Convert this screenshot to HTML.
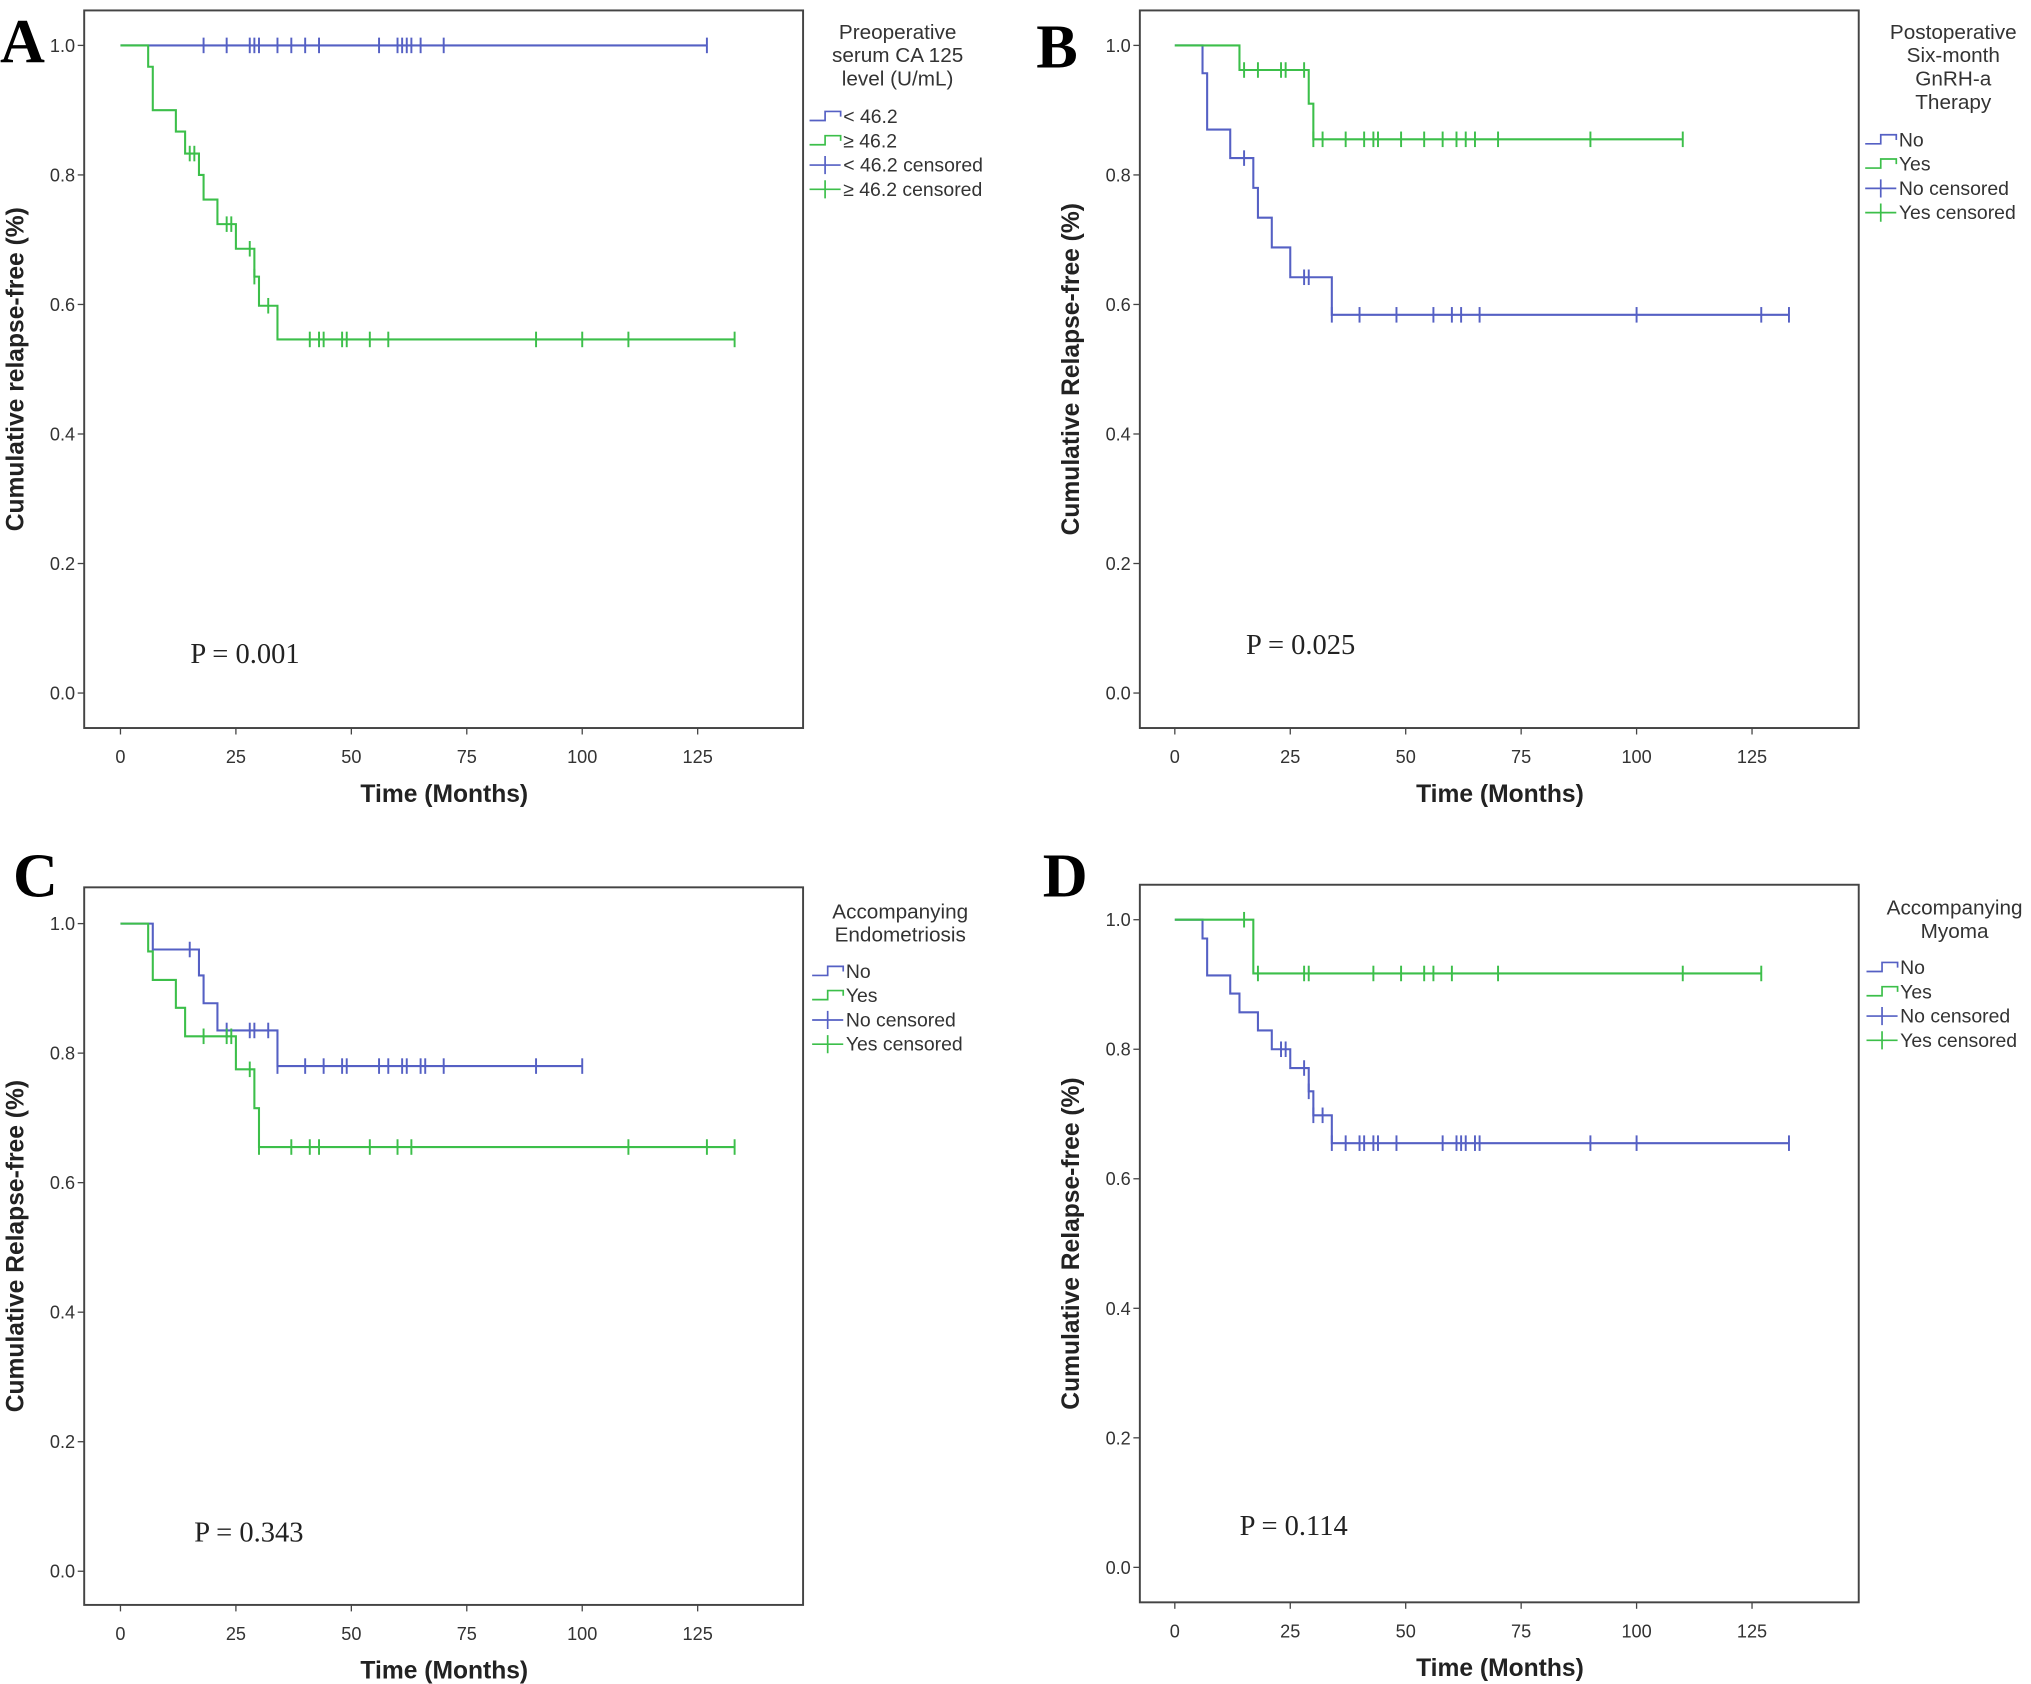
<!DOCTYPE html>
<html><head><meta charset="utf-8"><style>
html,body{margin:0;padding:0;background:#fff}
svg{display:block}
</style></head><body>
<svg id="fig" xmlns="http://www.w3.org/2000/svg" width="2031" height="1684" viewBox="0 0 1568 1300" font-family="Liberation Sans, sans-serif"></svg>
<script>
const xTicks=[0,25,50,75,100,125];
const yTicks=[0.0,0.2,0.4,0.6,0.8,1.0];
// Panel A
const aBlueSteps=[];
const aBlueCens=[18,23,28,29,30,34,37,40,43,56,60,61,62,63,65,70,127];
const aGreenSteps=[[6,0.967],[7,0.90],[12,0.867],[14,0.833],[17,0.80],[18,0.762],[21,0.724],[25,0.686],[29,0.643],[30,0.598],[34,0.546]];
const aGreenCens=[15,16,23,24,28,29,32,41,43,44,48,49,54,58,90,100,110,133];
// Panel B
const bBlueSteps=[[6,0.957],[7,0.87],[12,0.826],[17,0.78],[18,0.734],[21,0.688],[25,0.642],[34,0.584]];
const bBlueCens=[15,28,29,34,40,48,56,60,62,66,100,127,133];
const bGreenSteps=[[14,0.962],[29,0.91],[30,0.855]];
const bGreenCens=[15,18,23,24,28,30,32,37,41,43,44,49,54,58,61,63,65,70,90,110];
// Panel C
const cBlueSteps=[[7,0.96],[17,0.92],[18,0.877],[21,0.835],[34,0.78]];
const cBlueCens=[15,23,28,29,32,34,40,44,48,49,56,58,61,62,65,66,70,90,100];
const cGreenSteps=[[6,0.957],[7,0.913],[12,0.87],[14,0.826],[25,0.775],[29,0.715],[30,0.655]];
const cGreenCens=[18,23,24,28,30,37,41,43,54,60,63,110,127,133];
// Panel D
const dBlueSteps=[[6,0.971],[7,0.914],[12,0.886],[14,0.857],[18,0.829],[21,0.80],[25,0.771],[29,0.735],[30,0.698],[34,0.655]];
const dBlueCens=[23,24,28,29,30,32,34,37,40,41,43,44,48,58,61,62,63,65,66,90,100,133];
const dGreenSteps=[[17,0.917]];
const dGreenCens=[15,18,28,29,43,49,54,56,60,70,110,127];

const BLUE="#5560c4", GREEN="#3cbf4a";
const NS="http://www.w3.org/2000/svg";
const svg=document.getElementById('fig');
function el(tag,attrs,parent){const e=document.createElementNS(NS,tag);for(const k in attrs)e.setAttribute(k,attrs[k]);(parent||svg).appendChild(e);return e;}
const SERIF='"Liberation Serif", serif';

const panels=[
 {id:'a',L:'A',lx:0,ly:48,bx:65,by:8,x0:93,y1:35,y0:535,yTitle:'Cumulative relapse-free (%)',
  legTitle:['Preoperative','serum CA 125','level (U/mL)'],legX:625,legTY:30,legs:['< 46.2','\u2265 46.2','< 46.2 censored','\u2265 46.2 censored'],legY:90,
  p:'P = 0.001',px:147,py:512,blue:[aBlueSteps,aBlueCens],green:[aGreenSteps,aGreenCens]},
 {id:'b',L:'B',lx:800,ly:52,bx:880,by:8,x0:907,y1:35,y0:535,yTitle:'Cumulative Relapse-free (%)',
  legTitle:['Postoperative','Six-month','GnRH-a','Therapy'],legX:1440,legTY:30,legs:['No','Yes','No censored','Yes censored'],legY:108,
  p:'P = 0.025',px:962,py:505,blue:[bBlueSteps,bBlueCens],green:[bGreenSteps,bGreenCens]},
 {id:'c',L:'C',lx:10,ly:692,bx:65,by:685,x0:93,y1:713,y0:1213,yTitle:'Cumulative Relapse-free (%)',
  legTitle:['Accompanying','Endometriosis'],legX:627,legTY:709,legs:['No','Yes','No censored','Yes censored'],legY:750,
  p:'P = 0.343',px:150,py:1190,blue:[cBlueSteps,cBlueCens],green:[cGreenSteps,cGreenCens]},
 {id:'d',L:'D',lx:805,ly:692,bx:880,by:683,x0:907,y1:710,y0:1210,yTitle:'Cumulative Relapse-free (%)',
  legTitle:['Accompanying','Myoma'],legX:1441,legTY:706,legs:['No','Yes','No censored','Yes censored'],legY:747,
  p:'P = 0.114',px:957,py:1185,blue:[dBlueSteps,dBlueCens],green:[dGreenSteps,dGreenCens]}
];

panels.forEach(P=>{
 const g=el('g',{});
 
 
 const X=t=>P.x0+t*3.565;
 const Y=v=>P.y0-(v)*(P.y0-P.y1);
 const W=555,H=554;
 const lt=el('text',{x:P.lx,y:P.ly,style:'font-family:'+SERIF+';font-weight:bold;font-size:48px',fill:'#000'},g);
 lt.textContent=P.L;
 
 
 const box=el('rect',{x:P.bx,y:P.by,width:W,height:H,fill:'none',stroke:'#444','stroke-width':1.5},g);
 
 
 yTicks.forEach(v=>{
  el('line',{x1:P.bx-5,x2:P.bx,y1:Y(v),y2:Y(v),stroke:'#444','stroke-width':1},g);
  const t=el('text',{x:P.bx-7,y:Y(v)+5,'text-anchor':'end','font-size':14,fill:'#333'},g);
  t.textContent=v.toFixed(1);
  
  
 });
 xTicks.forEach(v=>{
  el('line',{x1:X(v),x2:X(v),y1:P.by+H,y2:P.by+H+5,stroke:'#444','stroke-width':1},g);
  const t=el('text',{x:X(v),y:P.by+H+27,'text-anchor':'middle','font-size':14,fill:'#333'},g);
  t.textContent=v;
  
  
 });
 const xt=el('text',{x:P.bx+278,y:P.by+H+57,'text-anchor':'middle','font-size':19,'font-weight':'bold',fill:'#222'},g);
 xt.textContent='Time (Months)';
 
 
 const yx=P.bx-47, yy=P.by+H/2;
 const yt=el('text',{x:yx,y:yy,'text-anchor':'middle','font-size':19,'font-weight':'bold',fill:'#222',transform:`rotate(-90 ${yx} ${yy})`},g);
 yt.textContent=P.yTitle;
 
 
 const lcx=P.legX+68;
 P.legTitle.forEach((s,i)=>{
  const t=el('text',{x:lcx,y:P.legTY+i*18,'text-anchor':'middle','font-size':16,fill:'#333'},g);
  t.textContent=s;
  
  
 });
 P.legs.forEach((s,i)=>{
  const y=P.legY+i*18.7, c=(i%2==0)?BLUE:GREEN;
  if(i<2){el('path',{d:`M${P.legX} ${y+3}H${P.legX+12}V${y-4}H${P.legX+24}V${y}`,fill:'none',stroke:c,'stroke-width':1.3},g);}
  else{el('path',{d:`M${P.legX} ${y}H${P.legX+24}M${P.legX+12} ${y-7}V${y+7}`,fill:'none',stroke:c,'stroke-width':1.3},g);}
  const t=el('text',{x:P.legX+26,y:y+5,'font-size':15,fill:'#333'},g);
  t.textContent=s;
  
  
 });
 const pt=el('text',{x:P.px,y:P.py,style:'font-family:'+SERIF+';font-size:22px',fill:'#222'},g);
 pt.textContent=P.p;
 
 
 [[P.blue,BLUE,'blue'],[P.green,GREEN,'green']].forEach(([ser,col,nm])=>{
  const steps=ser[0], cens=ser[1];
  const tmax=Math.max(...cens, ...(steps.map(s=>s[0])));
  let d=`M${X(0)} ${Y(1)}`;
  steps.forEach(([t,s])=>{d+=` H${X(t)} V${Y(s)}`;});
  d+=` H${X(tmax)}`;
  const path=el('path',{d:d,fill:'none',stroke:col,'stroke-width':1.6},g);
  
  
  const surv=t=>{let r=1;steps.forEach(([st,s])=>{if(st<=t)r=s;});return r;};
  cens.forEach(t=>{
   const cy=Y(surv(t));
   const m=el('line',{x1:X(t),x2:X(t),y1:cy-6,y2:cy+6,stroke:col,'stroke-width':1.5},g);
   
   
  });
 });
});
</script>
</body></html>
